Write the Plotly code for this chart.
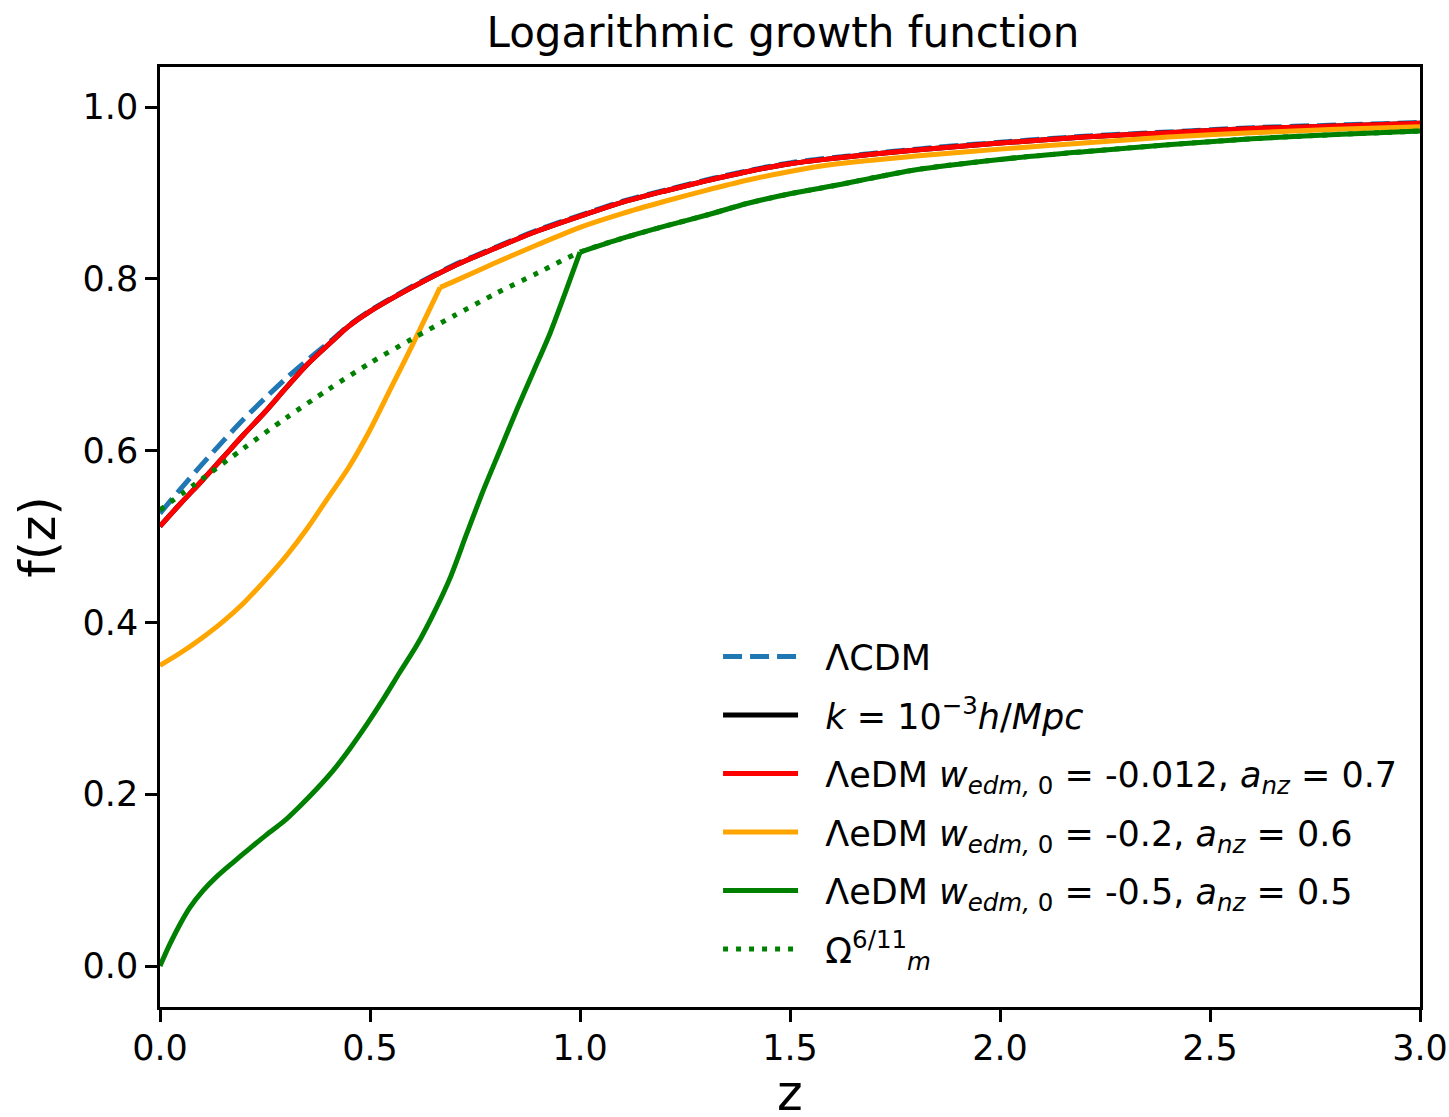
import plotly.graph_objects as go

# ---------------- data ----------------
z_lcdm = [0.0, 0.05, 0.1, 0.15, 0.2, 0.25, 0.3, 0.35, 0.4, 0.4286, 0.45, 0.5, 0.6, 0.7, 0.8, 0.9, 1.0,
          1.1, 1.2, 1.3, 1.4, 1.5, 1.6, 1.8, 2.0, 2.2, 2.4, 2.6, 2.8, 3.0]
f_lcdm = [0.527, 0.556, 0.584, 0.611, 0.637, 0.661, 0.684, 0.705, 0.725, 0.737, 0.746, 0.763, 0.791, 0.816,
          0.837, 0.857, 0.874, 0.890, 0.903, 0.915, 0.926, 0.935, 0.941, 0.951, 0.959, 0.966, 0.971, 0.976,
          0.979, 0.982]

# red: transition at a_nz = 0.7 (z = 0.4286)
z_red = [0.0, 0.05, 0.1, 0.15, 0.2, 0.25, 0.3, 0.35, 0.4, 0.4286, 0.45, 0.5, 0.6, 0.7, 0.8, 0.9, 1.0,
         1.1, 1.2, 1.3, 1.4, 1.5, 1.6, 1.8, 2.0, 2.2, 2.4, 2.6, 2.8, 3.0]
f_red = [0.512, 0.539, 0.565, 0.592, 0.619, 0.645, 0.673, 0.700, 0.723, 0.736, 0.745, 0.762, 0.790, 0.815,
         0.836, 0.856, 0.873, 0.889, 0.902, 0.914, 0.925, 0.934, 0.940, 0.950, 0.958, 0.965, 0.970, 0.975,
         0.978, 0.981]
kink_red = 0.4286

# k = 1e-3 h/Mpc curve lies underneath the red curve
z_k = [0.0, 0.05, 0.1, 0.15, 0.2, 0.25, 0.3, 0.35, 0.4, 0.4286, 0.45, 0.5, 0.6, 0.7, 0.8, 0.9, 1.0,
       1.1, 1.2, 1.3, 1.4, 1.5, 1.6, 1.8, 2.0, 2.2, 2.4, 2.6, 2.8, 3.0]
f_k = [0.512, 0.539, 0.565, 0.592, 0.619, 0.645, 0.673, 0.700, 0.723, 0.736, 0.745, 0.762, 0.790, 0.815,
       0.836, 0.856, 0.873, 0.889, 0.902, 0.914, 0.925, 0.934, 0.940, 0.950, 0.958, 0.965, 0.970, 0.975,
       0.978, 0.981]

# orange: transition at a_nz = 0.6 (z = 0.667)
z_orange = [0.0, 0.05, 0.1, 0.15, 0.2, 0.25, 0.3, 0.35, 0.4, 0.45, 0.5, 0.55, 0.6, 0.667,
            0.7, 0.8, 0.9, 1.0, 1.1, 1.2, 1.3, 1.4, 1.5, 1.6, 1.8, 2.0, 2.2, 2.4, 2.6, 2.8, 3.0]
f_orange = [0.350, 0.365, 0.382, 0.401, 0.423, 0.449, 0.477, 0.509, 0.545, 0.581, 0.624, 0.673, 0.722,
            0.790, 0.797, 0.819, 0.840, 0.860, 0.876, 0.890, 0.903, 0.915, 0.925, 0.933, 0.943, 0.951,
            0.958, 0.965, 0.970, 0.974, 0.977]
kink_orange = 0.667

# green: transition at a_nz = 0.5 (z = 1.0)
z_green = [0.0, 0.024, 0.048, 0.071, 0.103, 0.135, 0.175, 0.214, 0.254, 0.294, 0.333, 0.373, 0.413,
           0.452, 0.492, 0.532, 0.571, 0.611, 0.651, 0.69, 0.73, 0.77, 0.81, 0.849, 0.89, 0.929, 0.965,
           1.0, 1.1, 1.2, 1.3, 1.4, 1.5, 1.6, 1.8, 2.0, 2.2, 2.4, 2.6, 2.8, 3.0]
f_green = [0.000, 0.026, 0.049, 0.068, 0.088, 0.104, 0.121, 0.137, 0.153, 0.168, 0.186, 0.206, 0.228,
           0.253, 0.281, 0.311, 0.342, 0.373, 0.410, 0.451, 0.503, 0.554, 0.601, 0.647, 0.693, 0.737,
           0.784, 0.831, 0.847, 0.861, 0.874, 0.888, 0.899, 0.908, 0.927, 0.939, 0.948, 0.956, 0.963,
           0.968, 0.972]
kink_green = 1.0

z_omega = [0.0, 0.1, 0.2, 0.3, 0.4, 0.5, 0.6, 0.7, 0.8, 0.9, 1.0, 1.1, 1.2, 1.3, 1.4, 1.5, 1.6, 1.8,
           2.0, 2.2, 2.4, 2.6, 2.8, 3.0]
f_omega = [0.531, 0.567, 0.603, 0.638, 0.671, 0.702, 0.730, 0.757, 0.783, 0.807, 0.831, 0.847, 0.861,
           0.874, 0.888, 0.899, 0.908, 0.927, 0.939, 0.948, 0.956, 0.963, 0.968, 0.972]

x_ticks = [0.0, 0.5, 1.0, 1.5, 2.0, 2.5, 3.0]
y_ticks = [0.0, 0.2, 0.4, 0.6, 0.8, 1.0]

names = [
    "ΛCDM",
    "<i>k</i> = 10<sup>−3</sup><i>h</i>/<i>Mpc</i>",
    "ΛeDM <i>w</i><sub><i>edm,</i> 0</sub> = -0.012, <i>a</i><sub><i>nz</i></sub> = 0.7",
    "ΛeDM <i>w</i><sub><i>edm,</i> 0</sub> = -0.2, <i>a</i><sub><i>nz</i></sub> = 0.6",
    "ΛeDM <i>w</i><sub><i>edm,</i> 0</sub> = -0.5, <i>a</i><sub><i>nz</i></sub> = 0.5",
    "Ω<sup>6/11</sup><sub><i>m</i></sub>",
]

# ---------------- figure ----------------
LW = 5
FONT = "DejaVu Sans"
PAD = "\u00a0\u00a0"
fig = go.Figure()


def segments(zz, ff, kink):
    """split a curve at its transition redshift so the corner stays sharp"""
    if kink is None:
        return [(zz, ff)]
    i = zz.index(kink)
    return [(zz[:i + 1], ff[:i + 1]), (zz[i:], ff[i:])]


series = [
    (z_lcdm, f_lcdm, None, "#1f77b4", "19px,8px"),
    (z_k, f_k, kink_red, "#000000", "solid"),
    (z_red, f_red, kink_red, "#ff0000", "solid"),
    (z_orange, f_orange, kink_orange, "#ffa500", "solid"),
    (z_green, f_green, kink_green, "#008000", "solid"),
    (z_omega, f_omega, None, "#008000", "5px,8px"),
]
for i, (zz, ff, kink, col, dash) in enumerate(series):
    for j, (zs, fs) in enumerate(segments(zz, ff, kink)):
        fig.add_trace(go.Scatter(
            x=zs, y=fs, mode="lines", name=PAD + names[i], legendgroup=f"g{i}",
            showlegend=(j == 0),
            line=dict(color=col, width=LW, dash=dash, shape="spline", smoothing=0.8),
        ))

fig.update_layout(
    width=1449, height=1117,
    margin=dict(l=160, r=29, t=67, b=110, autoexpand=False),
    plot_bgcolor="white", paper_bgcolor="white",
    font=dict(family=FONT, size=35, color="black"),
    title=dict(text="Logarithmic growth function", x=0.4944, xref="paper", xanchor="center",
               y=1 - 32 / 1117, yref="container", yanchor="middle",
               font=dict(family=FONT, size=42, color="black")),
    showlegend=True,
    legend=dict(x=0.4429, y=0.404, xanchor="left", yanchor="top", bgcolor="rgba(0,0,0,0)",
                borderwidth=0, font=dict(family=FONT, size=35, color="black"),
                tracegroupgap=10, itemwidth=75),
    annotations=[dict(text="z", xref="paper", yref="paper", x=0.5, y=-(1093 - 1007) / 940,
                      xanchor="center", yanchor="middle", showarrow=False,
                      font=dict(family=FONT, size=49, color="black"))],
)
fig.update_xaxes(
    range=[0, 3], tickvals=x_ticks, ticktext=[f"{v:.1f}" for v in x_ticks], automargin=False,
    showline=True, linecolor="black", linewidth=2.5, mirror=True,
    ticks="outside", ticklen=12, tickwidth=2.5, tickcolor="black", ticklabelstandoff=-4,
    showgrid=False, zeroline=False,
)
fig.update_yaxes(
    range=[-0.0477, 1.0466], tickvals=y_ticks, ticktext=[f"{v:.1f}" for v in y_ticks], automargin=False,
    showline=True, linecolor="black", linewidth=2.5, mirror=True,
    ticks="outside", ticklen=12, tickwidth=2.5, tickcolor="black",
    showgrid=False, zeroline=False,
    title=dict(text="f(z)", font=dict(family=FONT, size=49, color="black"), standoff=12),
)

fig.write_html("out.html")
